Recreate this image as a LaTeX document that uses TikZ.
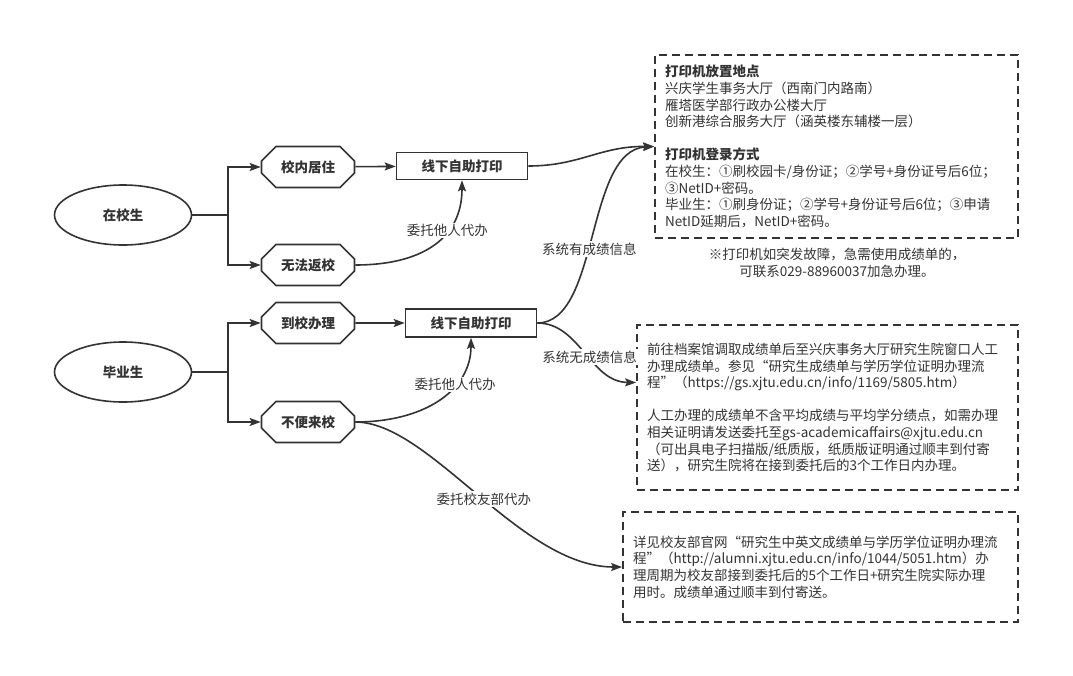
\documentclass[tikz,border=0pt]{standalone}
\usepackage{fontspec}
\setmainfont{Noto Sans CJK SC}
\usepackage{tikz}
\usetikzlibrary{arrows.meta,shapes.geometric,shapes.misc}
\definecolor{inkgray}{RGB}{51,51,51}

\begin{document}
\begin{tikzpicture}[x=1pt,y=-1pt,
  font=\fontsize{13.5}{16.6}\selectfont,text=inkgray,
  group/.style={ellipse,draw=inkgray,line width=1.6pt,minimum width=137pt,minimum height=60pt,inner sep=0pt,font=\fontsize{13.5}{16.6}\selectfont\bfseries},
  casebox/.style={chamfered rectangle,chamfered rectangle xsep=8pt,chamfered rectangle ysep=8pt,draw=inkgray,line width=1.6pt,minimum width=93pt,minimum height=41pt,inner sep=0pt,font=\fontsize{13.5}{16.6}\selectfont\bfseries},
  printbox/.style={rectangle,draw=inkgray,line width=1.6pt,minimum width=131pt,minimum height=27pt,inner sep=0pt,font=\fontsize{13.5}{16.6}\selectfont\bfseries},
  notebox/.style={rectangle,draw=inkgray,line width=1.8pt,dash pattern=on 8pt off 5pt,align=left,inner xsep=10pt,inner ysep=0pt},
  flow/.style={draw=inkgray,line width=1.6pt,-{Stealth[length=11pt,width=8pt,inset=2pt]}},
  link/.style={draw=inkgray,line width=1.6pt},
  tag/.style={fill=white,inner sep=1.5pt}
]
\useasboundingbox[fill=white] (0,0) rectangle (1073,675);

% student groups
\node[group] (zaixiao) at (123,215) {在校生};
\node[group] (biye) at (123,372) {毕业生};

% cases
\node[casebox] (juzhu) at (308,167) {校内居住};
\node[casebox] (wufa) at (308,265) {无法返校};
\node[casebox] (daoxiao) at (308,323) {到校办理};
\node[casebox] (bubian) at (308,422) {不便来校};

\node[printbox] (printA) at (462,166) {线下自助打印};
\node[printbox,minimum height=28pt] (printB) at (471,323) {线下自助打印};

% dashed info boxes
\node[notebox,minimum width=363pt,minimum height=183pt,text width=343pt] (placebox) at (836.5,146.5) {%
\textbf{打印机放置地点}\\
兴庆学生事务大厅（西南门内路南）\\
雁塔医学部行政办公楼大厅\\
创新港综合服务大厅（涵英楼东辅楼一层）\\[16.6pt]
\textbf{打印机登录方式}\\
在校生：①刷校园卡/身份证；②学号+身份证号后6位；\\
③NetID+密码。\\
毕业生：①刷身份证；②学号+身份证号后6位；③申请\\
NetID延期后，NetID+密码。};

\node[align=center] (faultnote) at (837,263) {※打印机如突发故障，急需使用成绩单的，\\可联系029-88960037加急办理。};

\node[notebox,minimum width=381pt,minimum height=165pt,text width=361pt] (archbox) at (827.5,407.5) {%
前往档案馆调取成绩单后至兴庆事务大厅研究生院窗口人工\\
办理成绩单。参见“研究生成绩单与学历学位证明办理流\\
程”（https://gs.xjtu.edu.cn/info/1169/5805.htm）\\[16.6pt]
人工办理的成绩单不含平均成绩与平均学分绩点，如需办理\\
相关证明请发送委托至gs-academicaffairs@xjtu.edu.cn\\
（可出具电子扫描版/纸质版，纸质版证明通过顺丰到付寄\\
送），研究生院将在接到委托后的3个工作日内办理。};

\node[notebox,minimum width=395pt,minimum height=110pt,text width=375pt] (alumbox) at (820.5,567) {%
详见校友部官网“研究生中英文成绩单与学历学位证明办理流\\
程”（http://alumni.xjtu.edu.cn/info/1044/5051.htm）办\\
理周期为校友部接到委托后的5个工作日+研究生院实际办理\\
用时。成绩单通过顺丰到付寄送。};

% forks
\coordinate (forkA) at (228,215);
\coordinate (forkB) at (228,372);
\draw[link] (zaixiao) -- (forkA);
\draw[flow] (forkA) |- (juzhu);
\draw[flow] (forkA) |- (wufa);
\draw[link] (biye) -- (forkB);
\draw[flow] (forkB) |- (daoxiao);
\draw[flow] (forkB) |- (bubian);

\draw[flow] (juzhu) -- (printA);
\draw[flow] (daoxiao) -- (printB);

\draw[flow] (wufa.east) .. controls (420,265) and (462,240) .. node[tag,pos=0.65] {委托他人代办} (printA.south);
\draw[flow] (bubian.east) .. controls (425,422) and (471,390) .. node[tag,pos=0.65] {委托他人代办} (printB.south);

\draw[flow] (printA.east) .. controls (580,166) and (600,146) .. (placebox.west);
\draw[flow] (printB.east) .. controls (600,323) and (585,150) .. node[tag,pos=0.45] {系统有成绩信息} (placebox.west);
\draw[flow] (printB.east) .. controls (580,323) and (590,382) .. node[tag,pos=0.55] {系统无成绩信息} ([yshift=25pt]archbox.west);
\draw[flow] (bubian.east) .. controls (430,422) and (520,567) .. node[tag,pos=0.52] {委托校友部代办} (alumbox.west);
\end{tikzpicture}
\end{document}
